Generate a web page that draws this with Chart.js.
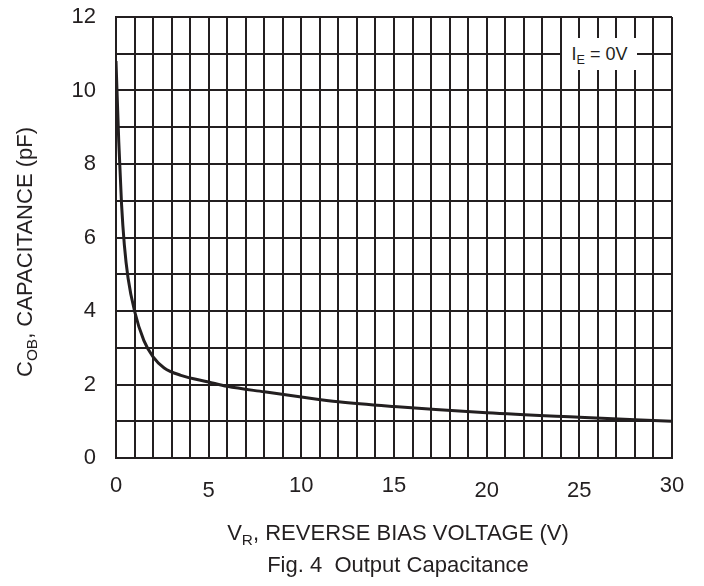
<!DOCTYPE html>
<html lang="en">
<head>
<meta charset="UTF-8">
<title>Fig. 4 Output Capacitance</title>
<script src="https://cdn.jsdelivr.net/npm/chart.js@4.4.1/dist/chart.umd.min.js"></script>
<style>
  html, body { margin: 0; padding: 0; background: #fff; }
  #wrap { position: relative; width: 704px; height: 586px; font-family: "Liberation Sans", Arial, sans-serif; color: #231f20; }
  #chart { position: absolute; left: 0; top: 0; }
  .lbl { position: absolute; white-space: nowrap; line-height: 1; }
  .lbl sub { font-size: 70%; vertical-align: -0.35em; line-height: 0; }
  #ytitle { font-size: 22px; left: 25px; top: 252px; transform: translate(-50%, -50%) rotate(-90deg); }
  #xtitle { font-size: 22px; left: 398px; top: 533px; transform: translate(-50%, -50%); }
  #caption { font-size: 22px; left: 398px; top: 565px; transform: translate(-50%, -50%); }
  #note { font-size: 18px; left: 562px; top: 38px; width: 75px; height: 32px; background: #fff; display: flex; align-items: center; justify-content: center; }
</style>
</head>
<body>
<div id="wrap">
  <canvas id="chart" width="704" height="586"></canvas>
  <div class="lbl" id="ytitle">C<sub>OB</sub>, CAPACITANCE (pF)</div>
  <div class="lbl" id="xtitle">V<sub>R</sub>, REVERSE BIAS VOLTAGE (V)</div>
  <div class="lbl" id="caption">Fig. 4&nbsp; Output Capacitance</div>
  <div class="lbl" id="note"><span>I<sub>E</sub> = 0V</span></div>
</div>
<script>
// values
var voltage     = [0, 0.15, 0.3, 0.45, 0.65, 1.0, 1.5, 2.0, 2.6, 3.5, 5, 6, 8, 10, 12, 15, 20, 25, 30];
var capacitance = [10.8, 8.6, 6.9, 5.8, 4.9, 4.0, 3.2, 2.75, 2.45, 2.25, 2.07, 1.95, 1.8, 1.66, 1.53, 1.4, 1.23, 1.11, 1.0];
var xTickLabels = [0, 5, 10, 15, 20, 25, 30];
var xLowLabels  = [5, 20, 25];   // these sit a little lower in the original
var yTickLabels = [0, 2, 4, 6, 8, 10, 12];

var ink = '#231f20';
var points = voltage.map(function(v, i) { return { x: v, y: capacitance[i] }; });

var ctx = document.getElementById('chart').getContext('2d');
new Chart(ctx, {
  type: 'line',
  data: {
    datasets: [{
      data: points,
      borderColor: ink,
      borderWidth: 3,
      pointRadius: 0,
      cubicInterpolationMode: 'monotone',
      fill: false
    }]
  },
  options: {
    responsive: false,
    animation: false,
    layout: { padding: { top: 17, right: 32, left: 0, bottom: 0 } },
    plugins: { legend: { display: false }, tooltip: { enabled: false } },
    scales: {
      x: {
        type: 'linear',
        min: 0, max: 30,
        afterFit: function(s) { s.height = 128; s.paddingLeft = 0; s.paddingRight = 0; },
        border: { color: ink, width: 2 },
        grid: { color: ink, lineWidth: 2, drawTicks: false },
        ticks: {
          stepSize: 1, autoSkip: false, maxRotation: 0, padding: 15,
          color: ink,
          font: function(c) {
            var low = c.tick && xLowLabels.indexOf(c.tick.value) >= 0;
            return { family: 'Liberation Sans', size: 22, lineHeight: low ? 1.65 : 1.2 };
          },
          callback: function(v) { return xTickLabels.indexOf(v) >= 0 ? String(v) : ''; }
        }
      },
      y: {
        min: 0, max: 12,
        afterFit: function(s) { s.width = 116; s.paddingTop = 0; s.paddingBottom = 0; },
        border: { color: ink, width: 2 },
        grid: { color: ink, lineWidth: 2, drawTicks: false },
        ticks: {
          stepSize: 1, autoSkip: false, padding: 20,
          color: ink, font: { family: 'Liberation Sans', size: 22 },
          callback: function(v) { return yTickLabels.indexOf(v) >= 0 ? String(v) : ''; }
        }
      }
    }
  }
});
</script>
</body>
</html>
